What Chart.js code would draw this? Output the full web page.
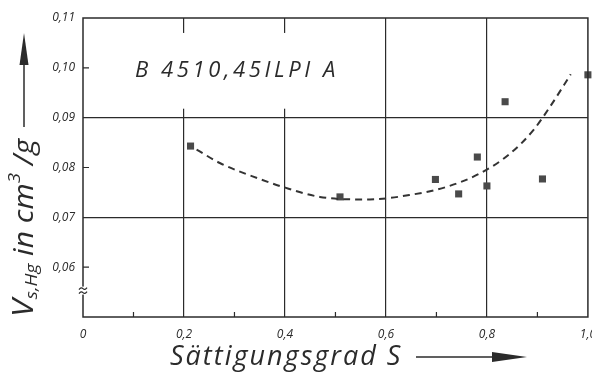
<!DOCTYPE html>
<html>
<head>
<meta charset="utf-8">
<script src="https://cdn.jsdelivr.net/npm/chart.js@4"></script>
<style>
  html, body { margin: 0; padding: 0; background: #fff; overflow: hidden; }
  #wrap { width: 606px; height: 373px; }
</style>
</head>
<body>
<div id="wrap"><canvas id="satChart"></canvas></div>
<script>
// measured points
const satValues = [0.213, 0.509, 0.698, 0.744, 0.781, 0.80, 0.836, 0.91, 1.0];
const volValues = [0.0843, 0.0741, 0.0776, 0.0747, 0.0821, 0.0763, 0.0932, 0.0777, 0.0986];

// dashed fit curve
const fitSat = [0.225, 0.271, 0.350, 0.396, 0.469, 0.549, 0.568, 0.648, 0.720, 0.786, 0.846, 0.892, 0.925, 0.966];
const fitVol = [0.0836, 0.0809, 0.0777, 0.0761, 0.0741, 0.0736, 0.0736, 0.0745, 0.0761, 0.0788, 0.0828, 0.0875, 0.0922, 0.0987];

const xMajor = [0.2, 0.4, 0.6, 0.8];
const xMinor = [0.1, 0.3, 0.5, 0.7, 0.9];
const yMajor = [0.07, 0.09];
const yMinor = [0.06, 0.08, 0.10];

const sampleLabel = 'B 4510,45ILPI A';
const xTitle = 'Sättigungsgrad S';

const ink = '#2b2b2b';
const lightFont = '"Open Sans", "DejaVu Sans", sans-serif';

const toComma = (v, d) => v.toFixed(d).replace('.', ',');
const near = (a, list) => list.some(b => Math.abs(a - b) < 1e-6);

const decor = {
    id: 'decor',
    beforeDatasetsDraw(chart) {
        const { ctx, scales: { x, y } } = chart;
        // gap in the grid behind the sample label
        ctx.save();
        ctx.fillStyle = '#fff';
        const top = y.getPixelForValue(0.107);
        const bot = y.getPixelForValue(0.0918);
        ctx.fillRect(x.getPixelForValue(0.15), top, x.getPixelForValue(0.5) - x.getPixelForValue(0.15), bot - top);
        ctx.restore();
    },
    afterDraw(chart) {
        const { ctx, chartArea: a, scales: { x, y } } = chart;
        ctx.save();
        ctx.strokeStyle = ink;
        ctx.lineWidth = 1.5;
        ctx.strokeRect(a.left, a.top, a.right - a.left, a.bottom - a.top);

        ctx.lineWidth = 1.2;
        ctx.beginPath();
        xMinor.forEach(v => {
            const px = x.getPixelForValue(v);
            ctx.moveTo(px, a.bottom);
            ctx.lineTo(px, a.bottom - 5);
        });
        yMinor.forEach(v => {
            const py = y.getPixelForValue(v);
            ctx.moveTo(a.left, py);
            ctx.lineTo(a.left + 6, py);
        });
        ctx.stroke();

        // axis break mark
        const by = y.getPixelForValue(0.0553);
        ctx.fillStyle = '#fff';
        ctx.fillRect(a.left - 4, by - 4, 8, 8);
        ctx.beginPath();
        [-2, 2].forEach(off => {
            ctx.moveTo(a.left - 4, by + off + 1);
            ctx.quadraticCurveTo(a.left - 2, by + off - 2, a.left, by + off);
            ctx.quadraticCurveTo(a.left + 2, by + off + 2, a.left + 4, by + off - 1);
        });
        ctx.stroke();

        // sample label
        ctx.fillStyle = ink;
        ctx.font = 'italic 400 22px ' + lightFont;
        ctx.letterSpacing = '3.6px';
        ctx.textBaseline = 'alphabetic';
        ctx.textAlign = 'left';
        ctx.fillText(sampleLabel, 135, 77);

        // x title + arrow
        ctx.font = 'italic 400 27px ' + lightFont;
        ctx.letterSpacing = '2px';
        ctx.fillText(xTitle, 170, 365);
        ctx.letterSpacing = '0px';
        ctx.lineWidth = 1.5;
        ctx.beginPath();
        ctx.moveTo(416, 357);
        ctx.lineTo(500, 357);
        ctx.stroke();
        ctx.beginPath();
        ctx.moveTo(527, 357);
        ctx.lineTo(492, 352);
        ctx.lineTo(492, 362);
        ctx.closePath();
        ctx.fill();

        // y title, rotated, squeezed to the drawn length
        ctx.save();
        ctx.translate(33, 317);
        ctx.rotate(-Math.PI / 2);
        const parts = [['V', 29, 0], ['s,Hg', 17, 4], [' in cm', 27, 0], ['3', 17, -13], [' /g', 27, 0]];
        let total = 0;
        parts.forEach(([t, size]) => {
            ctx.font = 'italic 400 ' + size + 'px ' + lightFont;
            total += ctx.measureText(t).width;
        });
        ctx.scale(178 / total, 1);
        let cx = 0;
        parts.forEach(([t, size, dy]) => {
            ctx.font = 'italic 400 ' + size + 'px ' + lightFont;
            ctx.fillText(t, cx, dy);
            cx += ctx.measureText(t).width;
        });
        ctx.restore();
        ctx.translate(24, 318);
        ctx.rotate(-Math.PI / 2);
        ctx.lineWidth = 1.5;
        ctx.beginPath();
        ctx.moveTo(191, 0);
        ctx.lineTo(260, 0);
        ctx.stroke();
        ctx.beginPath();
        ctx.moveTo(285, 0);
        ctx.lineTo(253, -4.5);
        ctx.lineTo(253, 4.5);
        ctx.closePath();
        ctx.fill();
        ctx.restore();
    }
};

new Chart(document.getElementById('satChart'), {
    type: 'scatter',
    data: {
        datasets: [
            {
                label: 'fit',
                data: fitSat.map((s, i) => ({ x: s, y: fitVol[i] })),
                showLine: true,
                borderColor: '#333',
                borderWidth: 2,
                borderDash: [7, 5],
                pointRadius: 0,
                cubicInterpolationMode: 'monotone',
            },
            {
                label: 'measured',
                data: satValues.map((s, i) => ({ x: s, y: volValues[i] })),
                pointStyle: 'rect',
                pointRadius: 5,
                backgroundColor: '#4a4a4a',
                borderColor: '#4a4a4a',
                borderWidth: 0,
                clip: false,
            },
        ],
    },
    options: {
        responsive: true,
        maintainAspectRatio: false,
        animation: false,
        layout: { padding: { top: 18, right: 12, left: 0, bottom: 0 } },
        plugins: { legend: { display: false }, tooltip: { enabled: false } },
        scales: {
            x: {
                type: 'linear',
                min: 0,
                max: 1,
                afterFit: s => { s.height = 56; },
                border: { display: false },
                grid: {
                    drawTicks: false,
                    lineWidth: 1.2,
                    color: c => near(c.tick.value, xMajor) ? ink : 'transparent',
                },
                ticks: {
                    stepSize: 0.1,
                    autoSkip: false,
                    maxRotation: 0,
                    padding: 10,
                    color: ink,
                    font: { family: lightFont, style: 'italic', weight: '500', size: 12 },
                    callback: v => {
                        const r = Math.round(v * 10);
                        if (r === 0) return '0';
                        return r % 2 === 0 ? toComma(r / 10, 1) : '';
                    },
                },
            },
            y: {
                type: 'linear',
                min: 0.05,
                max: 0.11,
                afterFit: s => { s.width = 83; },
                border: { display: false },
                grid: {
                    drawTicks: false,
                    lineWidth: 1.2,
                    color: c => near(c.tick.value, yMajor) ? ink : 'transparent',
                },
                ticks: {
                    stepSize: 0.01,
                    padding: 8,
                    color: ink,
                    font: { family: lightFont, style: 'italic', weight: '500', size: 12 },
                    callback: v => {
                        const r = Math.round(v * 100);
                        return r === 5 ? '' : toComma(r / 100, 2);
                    },
                },
            },
        },
    },
    plugins: [decor],
});
</script>
</body>
</html>
